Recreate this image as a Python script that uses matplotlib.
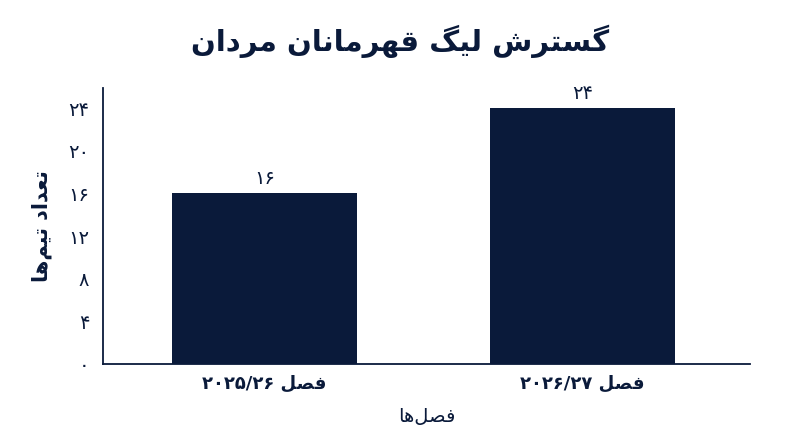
import matplotlib
matplotlib.use('Agg')
import matplotlib.pyplot as plt
from matplotlib.ticker import FuncFormatter

# داده‌ها
seasons = ['فصل ۲۰۲۵/۲۶', 'فصل ۲۰۲۶/۲۷']
teams = [16, 24]
y_ticks = [0, 4, 8, 12, 16, 20, 24]

title = 'گسترش لیگ قهرمانان مردان'
x_label = 'فصل‌ها'
y_label = 'تعداد تیم‌ها'

navy = '#0a1a3a'

# شکل‌دهی دستی حروف فارسی (matplotlib خودش این کار را نمی‌کند)
# (isolated, final, initial, medial) ؛ حروفی که فقط از راست می‌چسبند دو شکل دارند
FORMS = {
    'ا': ('\uFE8D', '\uFE8E'),
    'د': ('\uFEA9', '\uFEAA'),
    'ر': ('\uFEAD', '\uFEAE'),
    'ت': ('\uFE95', '\uFE96', '\uFE97', '\uFE98'),
    'س': ('\uFEB1', '\uFEB2', '\uFEB3', '\uFEB4'),
    'ش': ('\uFEB5', '\uFEB6', '\uFEB7', '\uFEB8'),
    'ص': ('\uFEB9', '\uFEBA', '\uFEBB', '\uFEBC'),
    'ع': ('\uFEC9', '\uFECA', '\uFECB', '\uFECC'),
    'ف': ('\uFED1', '\uFED2', '\uFED3', '\uFED4'),
    'ق': ('\uFED5', '\uFED6', '\uFED7', '\uFED8'),
    'ل': ('\uFEDD', '\uFEDE', '\uFEDF', '\uFEE0'),
    'م': ('\uFEE1', '\uFEE2', '\uFEE3', '\uFEE4'),
    'ن': ('\uFEE5', '\uFEE6', '\uFEE7', '\uFEE8'),
    'ه': ('\uFEE9', '\uFEEA', '\uFEEB', '\uFEEC'),
    'گ': ('\uFB92', '\uFB93', '\uFB94', '\uFB95'),
    'ی': ('\uFBFC', '\uFBFD', '\uFBFE', '\uFBFF'),
}
LTR = set('۰۱۲۳۴۵۶۷۸۹0123456789/')


def fa(text):
    chars = list(text)
    out = []
    for i, c in enumerate(chars):
        if c == '\u200c':
            continue
        if c not in FORMS:
            out.append(c)
            continue
        prev = chars[i - 1] if i > 0 else ''
        nxt = chars[i + 1] if i + 1 < len(chars) else ''
        join_prev = prev in FORMS and len(FORMS[prev]) == 4
        join_next = nxt in FORMS and len(FORMS[c]) == 4
        f = FORMS[c]
        if join_prev and join_next:
            out.append(f[3])
        elif join_prev:
            out.append(f[1])
        elif join_next:
            out.append(f[2])
        else:
            out.append(f[0])
    # ترتیب نمایشی: کل رشته برعکس، اعداد چپ‌به‌راست می‌مانند
    rev = out[::-1]
    res, run = [], []
    for c in rev:
        if c in LTR:
            run.append(c)
        else:
            if run:
                res.extend(run[::-1])
                run = []
            res.append(c)
    if run:
        res.extend(run[::-1])
    return ''.join(res)


def fa_num(v):
    return ''.join('۰۱۲۳۴۵۶۷۸۹'[int(d)] for d in str(int(v)))


plt.rcParams['font.family'] = ['DejaVu Sans']

fig = plt.figure(figsize=(8, 4.47), dpi=100)
ax = fig.add_axes([0.129, 0.186, 0.8085, 0.617])

x = list(range(len(seasons)))
bars = ax.bar(x, teams, width=0.58, color=navy)

for b, v in zip(bars, teams):
    ax.annotate(fa_num(v), (b.get_x() + b.get_width() / 2, v), xytext=(0, 4),
                textcoords='offset points', ha='center', va='bottom',
                fontsize=14, color=navy)

ax.set_xlim(-0.508, 1.527)
ax.set_ylim(0, 25.9)
ax.set_yticks(y_ticks)
ax.yaxis.set_major_formatter(FuncFormatter(lambda v, p: fa_num(v)))
ax.set_xticks(x)
ax.set_xticklabels([fa(s) for s in seasons], fontweight='bold')

for s in ['top', 'right']:
    ax.spines[s].set_visible(False)
for s in ['left', 'bottom']:
    ax.spines[s].set_color(navy)
    ax.spines[s].set_linewidth(1.3)

ax.tick_params(axis='both', length=0, labelsize=14, colors=navy)
ax.tick_params(axis='x', labelsize=13, pad=8)
ax.tick_params(axis='y', pad=10)

ax.set_xlabel(fa(x_label), fontsize=14, color=navy, labelpad=10)
ax.set_ylabel(fa(y_label), fontsize=15, color=navy, labelpad=12, fontweight='bold')
fig.suptitle(fa(title), fontsize=21, fontweight='bold', color=navy, y=0.945)

fig.savefig('out.png', dpi=100, facecolor='white')
